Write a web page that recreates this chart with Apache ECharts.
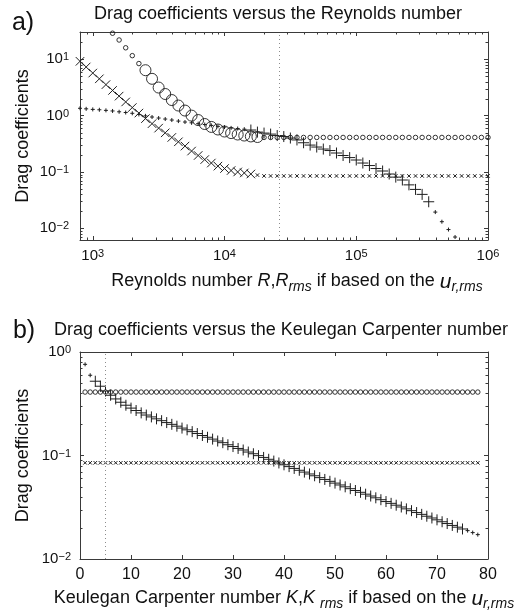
<!DOCTYPE html>
<html>
<head>
<meta charset="utf-8">
<title>Drag coefficients</title>
<script src="https://cdn.jsdelivr.net/npm/echarts@6/dist/echarts.min.js"></script>
<style>
  html, body { margin: 0; padding: 0; background: #ffffff; }
  #chart { width: 521px; height: 616px; }
</style>
</head>
<body>
<div id="chart"></div>
<script>
// ---------- Panel a): coefficients against the Reynolds number ----------
// Reynolds numbers, sampled every 0.05 decade
const reynolds = [
  800, 891, 1000, 1122, 1259, 1413, 1585, 1778, 1995, 2239,
  2512, 2818, 3162, 3548, 3981, 4467, 5012, 5623, 6310, 7079,
  7943, 8913, 10000, 11220, 12589, 14125, 15849, 17783, 19953, 22387,
  25119, 28184, 31623, 35481, 39811, 44668, 50119, 56234, 63096, 70795,
  79433, 89125, 100000, 112202, 125893, 141254, 158489, 177828, 199526, 223872,
  251189, 281838, 316228, 354813, 398107, 446684, 501187, 562341, 630957, 707946,
  794328, 891251, 1000000
];
// small open circles
const reCircleSmall = [
  null, null, null, null, null, 29, 22, 16, 11.6, 8.4,
  null, null, null, null, null, null, null, null, null, null,
  null, null, null, null, null, null, null, null, 0.41, 0.41,
  0.41, 0.41, 0.41, 0.41, 0.41, 0.41, 0.41, 0.41, 0.41, 0.41,
  0.41, 0.41, 0.41, 0.41, 0.41, 0.41, 0.41, 0.41, 0.41, 0.41,
  0.41, 0.41, 0.41, 0.41, 0.41, 0.41, 0.41, 0.41, 0.41, 0.41,
  0.41, 0.41, 0.41
];
// large open circles
const reCircleBig = [
  null, null, null, null, null, null, null, null, null, null,
  6.4, 4.5, 3.15, 2.42, 1.89, 1.51, 1.23, 1.0, 0.835, 0.71,
  0.63, 0.567, 0.522, 0.49, 0.462, 0.443, 0.427, 0.417, null, null,
  null, null, null, null, null, null, null, null, null, null,
  null, null, null, null, null, null, null, null, null, null,
  null, null, null, null, null, null, null, null, null, null,
  null, null, null
];
// large crosses
const reCrossBig = [
  9.2, 7.3, 5.7, 4.5, 3.55, 2.8, 2.22, 1.75, 1.39, 1.11,
  0.885, 0.72, 0.60, 0.495, 0.41, 0.343, 0.288, 0.235, 0.196, 0.166,
  0.144, 0.127, 0.115, 0.106, 0.100, 0.096, 0.092, null, null, null,
  null, null, null, null, null, null, null, null, null, null,
  null, null, null, null, null, null, null, null, null, null,
  null, null, null, null, null, null, null, null, null, null,
  null, null, null
];
// small crosses
const reCrossSmall = [
  null, null, null, null, null, null, null, null, null, null,
  null, null, null, null, null, null, null, null, null, null,
  null, null, null, null, null, null, null, 0.088, 0.085, 0.085,
  0.085, 0.085, 0.085, 0.085, 0.085, 0.085, 0.085, 0.085, 0.085, 0.085,
  0.085, 0.085, 0.085, 0.085, 0.085, 0.085, 0.085, 0.085, 0.085, 0.085,
  0.085, 0.085, 0.085, 0.085, 0.085, 0.085, 0.085, 0.085, 0.085, 0.085,
  0.085, 0.085, 0.085
];
// small plus signs
const rePlusSmall = [
  1.35, 1.32, 1.29, 1.27, 1.24, 1.21, 1.17, 1.135, 1.10, 1.05,
  0.99, 0.945, 0.906, 0.87, 0.835, 0.80, 0.77, 0.745, 0.72, 0.695,
  0.67, 0.645, 0.625, 0.605, 0.59, 0.575, null, null, null, null,
  null, null, null, null, null, null, null, null, null, null,
  null, null, null, null, null, null, null, null, null, null,
  null, null, null, null, 0.0194, 0.0131, 0.0095, 0.0070, null, null,
  null, null, null
];
// large plus signs
const rePlusBig = [
  null, null, null, null, null, null, null, null, null, null,
  null, null, null, null, null, null, null, null, null, null,
  null, null, null, null, null, null, 0.555, 0.51, 0.49, 0.47,
  0.443, 0.425, 0.40, 0.37, 0.33, 0.30, 0.277, 0.255, 0.24, 0.217,
  0.196, 0.18, 0.163, 0.144, 0.13, 0.115, 0.104, 0.092, 0.081, 0.072,
  0.059, 0.049, 0.040, 0.0296, null, null, null, null, null, null,
  null, null, null
];
const reRange = [800, 1000000];
const reCdRange = [0.0062, 30.5];
const reMarker = 26000;
const reTickValues = [1000, 10000, 100000, 1000000];
const reTickExps = ['3', '4', '5', '6'];
const reMinorTicks = [900, 2000, 3000, 4000, 5000, 6000, 7000, 8000, 9000,
  20000, 30000, 40000, 50000, 60000, 70000, 80000, 90000,
  200000, 300000, 400000, 500000, 600000, 700000, 800000, 900000];
const reCdTickValues = [0.01, 0.1, 1, 10];
const reCdTickExps = ['\u22122', '\u22121', '0', '1'];
const reCdMinorTicks = [0.007, 0.008, 0.009, 0.02, 0.03, 0.04, 0.05, 0.06, 0.07, 0.08, 0.09,
  0.2, 0.3, 0.4, 0.5, 0.6, 0.7, 0.8, 0.9, 2, 3, 4, 5, 6, 7, 8, 9, 20, 30];

// ---------- Panel b): coefficients against the Keulegan Carpenter number ----------
const kc = [
  1, 2, 3, 4, 5, 6, 7, 8, 9, 10,
  11, 12, 13, 14, 15, 16, 17, 18, 19, 20,
  21, 22, 23, 24, 25, 26, 27, 28, 29, 30,
  31, 32, 33, 34, 35, 36, 37, 38, 39, 40,
  41, 42, 43, 44, 45, 46, 47, 48, 49, 50,
  51, 52, 53, 54, 55, 56, 57, 58, 59, 60,
  61, 62, 63, 64, 65, 66, 67, 68, 69, 70,
  71, 72, 73, 74, 75, 76, 77, 78
];
const kcCircle = [
  0.41, 0.41, 0.41, 0.41, 0.41, 0.41, 0.41, 0.41, 0.41, 0.41,
  0.41, 0.41, 0.41, 0.41, 0.41, 0.41, 0.41, 0.41, 0.41, 0.41,
  0.41, 0.41, 0.41, 0.41, 0.41, 0.41, 0.41, 0.41, 0.41, 0.41,
  0.41, 0.41, 0.41, 0.41, 0.41, 0.41, 0.41, 0.41, 0.41, 0.41,
  0.41, 0.41, 0.41, 0.41, 0.41, 0.41, 0.41, 0.41, 0.41, 0.41,
  0.41, 0.41, 0.41, 0.41, 0.41, 0.41, 0.41, 0.41, 0.41, 0.41,
  0.41, 0.41, 0.41, 0.41, 0.41, 0.41, 0.41, 0.41, 0.41, 0.41,
  0.41, 0.41, 0.41, 0.41, 0.41, 0.41, 0.41, 0.41
];
const kcCross = [
  0.085, 0.085, 0.085, 0.085, 0.085, 0.085, 0.085, 0.085, 0.085, 0.085,
  0.085, 0.085, 0.085, 0.085, 0.085, 0.085, 0.085, 0.085, 0.085, 0.085,
  0.085, 0.085, 0.085, 0.085, 0.085, 0.085, 0.085, 0.085, 0.085, 0.085,
  0.085, 0.085, 0.085, 0.085, 0.085, 0.085, 0.085, 0.085, 0.085, 0.085,
  0.085, 0.085, 0.085, 0.085, 0.085, 0.085, 0.085, 0.085, 0.085, 0.085,
  0.085, 0.085, 0.085, 0.085, 0.085, 0.085, 0.085, 0.085, 0.085, 0.085,
  0.085, 0.085, 0.085, 0.085, 0.085, 0.085, 0.085, 0.085, 0.085, 0.085,
  0.085, 0.085, 0.085, 0.085, 0.085, 0.085, 0.085, 0.085
];
const kcPlusSmall = [
  0.76, 0.596, null, null, null, null, null, null, null, null,
  null, null, null, null, null, null, null, null, null, null,
  null, null, null, null, null, null, null, null, null, null,
  null, null, null, null, null, null, null, null, null, null,
  null, null, null, null, null, null, null, null, null, null,
  null, null, null, null, null, null, null, null, null, null,
  null, null, null, null, null, null, null, null, null, null,
  null, null, null, null, null, 0.0188, 0.0180, 0.0172
];
const kcPlusBig = [
  null, null, 0.522, 0.467, 0.420, 0.382, 0.352, 0.327, 0.306, 0.287,
  0.272, 0.258, 0.246, 0.236, 0.226, 0.217, 0.208, 0.200, 0.192, 0.184,
  0.177, 0.170, 0.163, 0.156, 0.150, 0.144, 0.138, 0.133, 0.127, 0.122,
  0.117, 0.113, 0.108, 0.104, 0.0997, 0.0958, 0.0919, 0.0883, 0.0847, 0.0813,
  0.0781, 0.0750, 0.0720, 0.0691, 0.0663, 0.0637, 0.0611, 0.0587, 0.0563, 0.0541,
  0.0519, 0.0498, 0.0478, 0.0459, 0.0441, 0.0423, 0.0406, 0.0390, 0.0374, 0.0359,
  0.0345, 0.0331, 0.0318, 0.0305, 0.0293, 0.0281, 0.0270, 0.0259, 0.0249, 0.0239,
  0.0229, 0.0220, 0.0211, 0.0203, 0.0195, null, null, null
];
const kcRange = [0, 80];
const kcCdRange = [0.01, 1];
const kcMarker = 5;
const kcTickValues = [0, 10, 20, 30, 40, 50, 60, 70, 80];
const kcTickLabels = ['0', '10', '20', '30', '40', '50', '60', '70', '80'];
const kcCdTickValues = [0.01, 0.1, 1];
const kcCdTickExps = ['\u22122', '\u22121', '0'];
const kcCdMinorTicks = [0.02, 0.03, 0.04, 0.05, 0.06, 0.07, 0.08, 0.09,
  0.2, 0.3, 0.4, 0.5, 0.6, 0.7, 0.8, 0.9];

// ---------- styling ----------
const FONT = "'Liberation Sans', Arial, Helvetica, sans-serif";
const INK = '#1e1e1e';
const AXIS = '#3a3a3a';
const TEXT = '#111111';
const MAJOR_LEN = 4;
const MINOR_LEN = 2.5;
const SYM_PLUS = 'path://M5,0L5,10M0,5L10,5';
const SYM_CROSS = 'path://M0,0L10,10M10,0L0,10';

function pairs(xs, ys) {
  const out = [];
  for (let i = 0; i < xs.length; i++) {
    if (ys[i] !== null && ys[i] !== undefined) out.push([xs[i], ys[i]]);
  }
  return out;
}

function decadeLabel(values, exps) {
  return function (v) {
    for (let i = 0; i < values.length; i++) {
      if (Math.abs(Math.log10(v) - Math.log10(values[i])) < 1e-6) {
        return '{b|10}{s|' + exps[i] + '}';
      }
    }
    return '';
  };
}

const supRich = {
  b: { fontSize: 15, lineHeight: 15, verticalAlign: 'bottom', fontFamily: FONT, color: TEXT },
  s: { fontSize: 11, lineHeight: 11, padding: [0, 0, 7, 0], verticalAlign: 'top', fontFamily: FONT, color: TEXT }
};

const nameRich = {
  t: { fontSize: 18, lineHeight: 22, verticalAlign: 'top', fontFamily: FONT, color: TEXT },
  i: { fontSize: 18, lineHeight: 22, verticalAlign: 'top', fontStyle: 'italic', fontFamily: FONT, color: TEXT },
  u: { fontSize: 21, lineHeight: 22, verticalAlign: 'top', fontStyle: 'italic', fontFamily: FONT, color: TEXT },
  d: { fontSize: 14, lineHeight: 14, padding: [11, 0, 0, 0], verticalAlign: 'bottom', fontStyle: 'italic', fontFamily: FONT, color: TEXT }
};

function frameAxis(extra) {
  return Object.assign({
    axisLine: { show: true, onZero: false, lineStyle: { color: AXIS, width: 1 } },
    axisTick: { show: true, inside: true, length: MAJOR_LEN, lineStyle: { color: AXIS, width: 1 } },
    splitLine: { show: false },
    minorTick: { show: false },
    axisLabel: { show: false },
    nameMoveOverlap: false
  }, extra);
}

function markerSeries(xi, yi, xs, ys, symbol, size, width, extra) {
  return Object.assign({
    type: 'scatter',
    xAxisIndex: xi,
    yAxisIndex: yi,
    data: pairs(xs, ys),
    symbol: symbol,
    symbolSize: size,
    silent: true,
    itemStyle: { color: 'rgba(0,0,0,0)', borderColor: INK, borderWidth: width, opacity: 1 },
    emphasis: { disabled: true }
  }, extra || {});
}

function markerLine(value, dim) {
  const item = {};
  item[dim] = value;
  return {
    silent: true,
    symbol: ['none', 'none'],
    label: { show: false },
    animation: false,
    lineStyle: { color: '#8c8c8c', type: [1, 3], width: 1 },
    data: [item]
  };
}

// minor ticks on both opposite edges of a grid
function minorTicks(xi, yi, values, dim, otherValue) {
  return {
    type: 'custom',
    xAxisIndex: xi,
    yAxisIndex: yi,
    silent: true,
    z: 5,
    data: values.map(v => dim === 'x' ? [v, otherValue] : [otherValue, v]),
    renderItem: function (params, api) {
      const cs = params.coordSys;
      const p = api.coord([api.value(0), api.value(1)]);
      const st = { stroke: AXIS, lineWidth: 1 };
      if (dim === 'x') {
        const x = Math.round(p[0]) + 0.5;
        return { type: 'group', children: [
          { type: 'line', shape: { x1: x, y1: cs.y + cs.height, x2: x, y2: cs.y + cs.height - MINOR_LEN }, style: st },
          { type: 'line', shape: { x1: x, y1: cs.y, x2: x, y2: cs.y + MINOR_LEN }, style: st }
        ] };
      }
      const y = Math.round(p[1]) + 0.5;
      return { type: 'group', children: [
        { type: 'line', shape: { x1: cs.x, y1: y, x2: cs.x + MINOR_LEN, y2: y }, style: st },
        { type: 'line', shape: { x1: cs.x + cs.width, y1: y, x2: cs.x + cs.width - MINOR_LEN, y2: y }, style: st }
      ] };
    }
  };
}

const tickLabelStyle = { show: true, color: TEXT, fontFamily: FONT, hideOverlap: false, showMinLabel: true, showMaxLabel: true };

const option = {
  animation: false,
  backgroundColor: '#ffffff',
  textStyle: { fontFamily: FONT },
  graphic: [
    { type: 'text', x: 23, y: 23, style: { text: 'a)', fontSize: 25, fontFamily: FONT, fill: TEXT, align: 'center', verticalAlign: 'middle' } },
    { type: 'text', x: 278, y: 14, style: { text: 'Drag coefficients versus the Reynolds number', fontSize: 18, fontFamily: FONT, fill: TEXT, align: 'center', verticalAlign: 'middle' } },
    { type: 'text', x: 24, y: 331, style: { text: 'b)', fontSize: 25, fontFamily: FONT, fill: TEXT, align: 'center', verticalAlign: 'middle' } },
    { type: 'text', x: 281, y: 330, style: { text: 'Drag coefficients versus the Keulegan Carpenter number', fontSize: 18, fontFamily: FONT, fill: TEXT, align: 'center', verticalAlign: 'middle' } }
  ],
  grid: [
    { left: 80, top: 32, width: 408, height: 208, containLabel: false, outerBoundsMode: 'none' },
    { left: 80, top: 352, width: 408, height: 207, containLabel: false, outerBoundsMode: 'none' }
  ],
  xAxis: [
    frameAxis({
      gridIndex: 0, type: 'log', position: 'bottom', min: reRange[0], max: reRange[1],
      axisLabel: Object.assign({}, tickLabelStyle, { margin: 8, formatter: decadeLabel(reTickValues, reTickExps), rich: supRich }),
      name: '{t|Reynolds number }{i|R}{t|,}{i|R}{d|rms}{t| if based on the }{u|u}{d|r,rms}',
      nameLocation: 'middle', nameGap: 32,
      nameTextStyle: { rich: nameRich, fontFamily: FONT, padding: [0, 0, 0, 26] }
    }),
    frameAxis({ gridIndex: 0, type: 'log', position: 'top', min: reRange[0], max: reRange[1] }),
    frameAxis({
      gridIndex: 1, type: 'value', position: 'bottom', min: kcRange[0], max: kcRange[1], interval: 10,
      axisLabel: Object.assign({}, tickLabelStyle, {
        margin: 8, fontSize: 16,
        formatter: v => { const i = kcTickValues.indexOf(v); return i >= 0 ? kcTickLabels[i] : ''; }
      }),
      name: '{t|Keulegan Carpenter number }{i|K}{t|,}{i|K}{t| }{d|rms}{t| if based on the }{u|u}{d|r,rms}',
      nameLocation: 'middle', nameGap: 30,
      nameTextStyle: { rich: nameRich, fontFamily: FONT }
    }),
    frameAxis({ gridIndex: 1, type: 'value', position: 'top', min: kcRange[0], max: kcRange[1], interval: 10 })
  ],
  yAxis: [
    frameAxis({
      gridIndex: 0, type: 'log', position: 'left', min: reCdRange[0], max: reCdRange[1],
      axisLabel: Object.assign({}, tickLabelStyle, { margin: 11, formatter: decadeLabel(reCdTickValues, reCdTickExps), rich: supRich }),
      name: 'Drag coefficients', nameLocation: 'middle', nameGap: 48, nameRotate: 90,
      nameTextStyle: { fontSize: 18, color: TEXT, fontFamily: FONT }
    }),
    frameAxis({ gridIndex: 0, type: 'log', position: 'right', min: reCdRange[0], max: reCdRange[1] }),
    frameAxis({
      gridIndex: 1, type: 'log', position: 'left', min: kcCdRange[0], max: kcCdRange[1],
      axisLabel: Object.assign({}, tickLabelStyle, { margin: 9, formatter: decadeLabel(kcCdTickValues, kcCdTickExps), rich: supRich }),
      name: 'Drag coefficients', nameLocation: 'middle', nameGap: 48, nameRotate: 90,
      nameTextStyle: { fontSize: 18, color: TEXT, fontFamily: FONT }
    }),
    frameAxis({ gridIndex: 1, type: 'log', position: 'right', min: kcCdRange[0], max: kcCdRange[1] })
  ],
  series: [
    // panel a)
    minorTicks(0, 0, reMinorTicks, 'x', reCdRange[0]),
    minorTicks(0, 0, reCdMinorTicks, 'y', reRange[0]),
    markerSeries(0, 0, reynolds, reCrossSmall, SYM_CROSS, 3.5, 1, { markLine: markerLine(reMarker, 'xAxis') }),
    markerSeries(0, 0, reynolds, reCircleSmall, 'circle', 4.5, 0.9),
    markerSeries(0, 0, reynolds, reCircleBig, 'circle', 11, 0.9),
    markerSeries(0, 0, reynolds, reCrossBig, SYM_CROSS, 8.5, 1),
    markerSeries(0, 0, reynolds, rePlusSmall, SYM_PLUS, 4, 1),
    markerSeries(0, 0, reynolds, rePlusBig, SYM_PLUS, 11, 1),
    // panel b)
    minorTicks(2, 2, kcCdMinorTicks, 'y', kcRange[0]),
    markerSeries(2, 2, kc, kcCross, SYM_CROSS, 3.5, 1, { markLine: markerLine(kcMarker, 'xAxis') }),
    markerSeries(2, 2, kc, kcCircle, 'circle', 4.5, 0.9),
    markerSeries(2, 2, kc, kcPlusSmall, SYM_PLUS, 4, 1),
    markerSeries(2, 2, kc, kcPlusBig, SYM_PLUS, 11, 1)
  ]
};

const chart = echarts.init(document.getElementById('chart'), null, { renderer: 'canvas' });
chart.setOption(option);
</script>
</body>
</html>
